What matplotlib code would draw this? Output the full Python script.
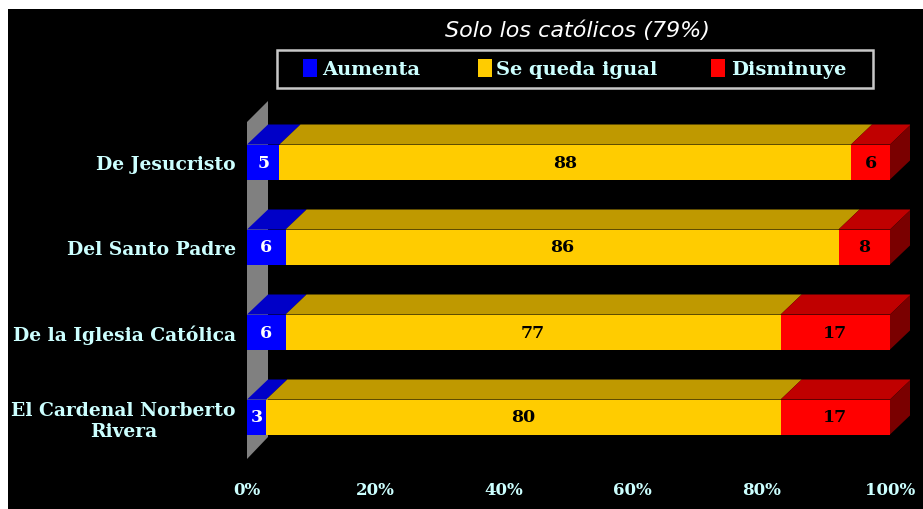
import matplotlib
matplotlib.use("Agg")
import matplotlib.pyplot as plt
from matplotlib.patches import Rectangle, Polygon
import numpy as np

# ---------------- data ----------------
title = "Solo los católicos (79%)"
categories = ["De Jesucristo", "Del Santo Padre", "De la Iglesia Católica",
              "El Cardenal Norberto\nRivera"]
series_names = ["Aumenta", "Se queda igual", "Disminuye"]
aumenta = [5, 6, 6, 3]
igual = [88, 86, 77, 80]
disminuye = [6, 8, 17, 17]
tick_values = [0, 20, 40, 60, 80, 100]
tick_labels = ["0%", "20%", "40%", "60%", "80%", "100%"]

# ---------------- style ----------------
W, H = 923, 510
front_cols = ["#0000FF", "#FFCC00", "#FF0000"]
top_cols = ["#0000C8", "#BF9900", "#C00000"]
side_col = "#7A0000"
label_cols = ["white", "black", "black"]
txt_col = "#CCFFFF"
serif = ["DejaVu Serif"]

fig = plt.figure(figsize=(W / 100, H / 100), dpi=100, facecolor="white")
fig.patches.append(Rectangle((8 / W, 0), 1 - 8 / W, 1 - 10 / H,
                             transform=fig.transFigure, facecolor="black",
                             edgecolor="none", zorder=-5))

def fx(px):
    return px / W

def fy(py):
    return 1 - py / H

# axes in pixel layout
x0px, x100px = 247, 890
pxu = (x100px - x0px) / 100.0
c0, cstep = 163, 85.0
ax_l, ax_r, ax_t, ax_b = 240, 910, 95, 470
ax = fig.add_axes([fx(ax_l), fy(ax_b), fx(ax_r) - fx(ax_l), fy(ax_t) - fy(ax_b)])
ax.set_zorder(5)
ax.set_facecolor("none")
ax.set_xlim((ax_l - x0px) / pxu, (ax_r - x0px) / pxu)
ax.set_ylim((ax_b - c0) / cstep, (ax_t - c0) / cstep)
for s in ax.spines.values():
    s.set_visible(False)

dx = 21 / pxu          # depth in x data units
dy = 20 / cstep        # depth in y data units
h = 35 / cstep         # bar thickness

# back wall
wall = Polygon([(0, (123 - c0) / cstep), (dx, (102 - c0) / cstep),
                (dx, (438 - c0) / cstep), (0, (460 - c0) / cstep)],
               closed=True, facecolor="#808080", edgecolor="none", zorder=1)
ax.add_patch(wall)

data = np.array([aumenta, igual, disminuye], dtype=float)
pct = data / data.sum(axis=0) * 100
ypos = np.arange(len(categories))

for i, y in enumerate(ypos):
    left = 0.0
    yt = y - h / 2
    yb = y + h / 2
    for k in range(3):
        w = pct[k, i]
        ax.barh(y, w, left=left, height=h, color=front_cols[k],
                edgecolor="none", zorder=3)
        top = Polygon([(left, yt), (left + w, yt), (left + w + dx, yt - dy),
                       (left + dx, yt - dy)], closed=True,
                      facecolor=top_cols[k], edgecolor="none", zorder=2)
        ax.add_patch(top)
        ax.text(left + w / 2, y, f"{int(data[k, i])}", ha="center",
                va="center", color=label_cols[k], fontsize=12.5,
                fontweight="bold", family=serif, zorder=5)
        left += w
    side = Polygon([(left, yt), (left + dx, yt - dy), (left + dx, yb - dy),
                    (left, yb)], closed=True, facecolor=side_col,
                   edgecolor="none", zorder=2)
    ax.add_patch(side)

ax.set_xticks(tick_values)
ax.set_xticklabels(tick_labels)
ax.set_yticks(ypos)
ax.set_yticklabels(categories)
ax.tick_params(axis="both", length=0, colors=txt_col)
ax.tick_params(axis="x", pad=9)
ax.tick_params(axis="y", pad=3)
for t in ax.get_xticklabels():
    t.set_fontfamily(serif)
    t.set_fontweight("bold")
    t.set_fontsize(12)
    t.set_color(txt_col)
for t in ax.get_yticklabels():
    t.set_fontfamily(serif)
    t.set_fontweight("bold")
    t.set_fontsize(13.5)
    t.set_color(txt_col)
    t.set_multialignment("center")

# title
fig.text(fx(577), fy(31), title, ha="center", va="center", color="white",
         fontsize=16, style="italic", family=["DejaVu Sans"])

# legend (drawn manually)
fig.patches.append(Rectangle((fx(277), fy(89)), fx(873) - fx(277), fy(51) - fy(89),
                             transform=fig.transFigure, facecolor="black",
                             edgecolor="#C8C8C8", linewidth=1.8, zorder=2))
sq_x = [303, 478, 711]
tx_x = [322, 496, 731]
for k in range(3):
    fig.patches.append(Rectangle((fx(sq_x[k]), fy(78)), 14 / W, 18 / H,
                                 transform=fig.transFigure,
                                 facecolor=front_cols[k], edgecolor="none",
                                 zorder=3))
    fig.text(fx(tx_x[k]), fy(70), series_names[k], ha="left", va="center",
             color=txt_col, fontsize=14, fontweight="bold", family=serif,
             zorder=4)

fig.savefig("out.png", dpi=100, facecolor=fig.get_facecolor())
